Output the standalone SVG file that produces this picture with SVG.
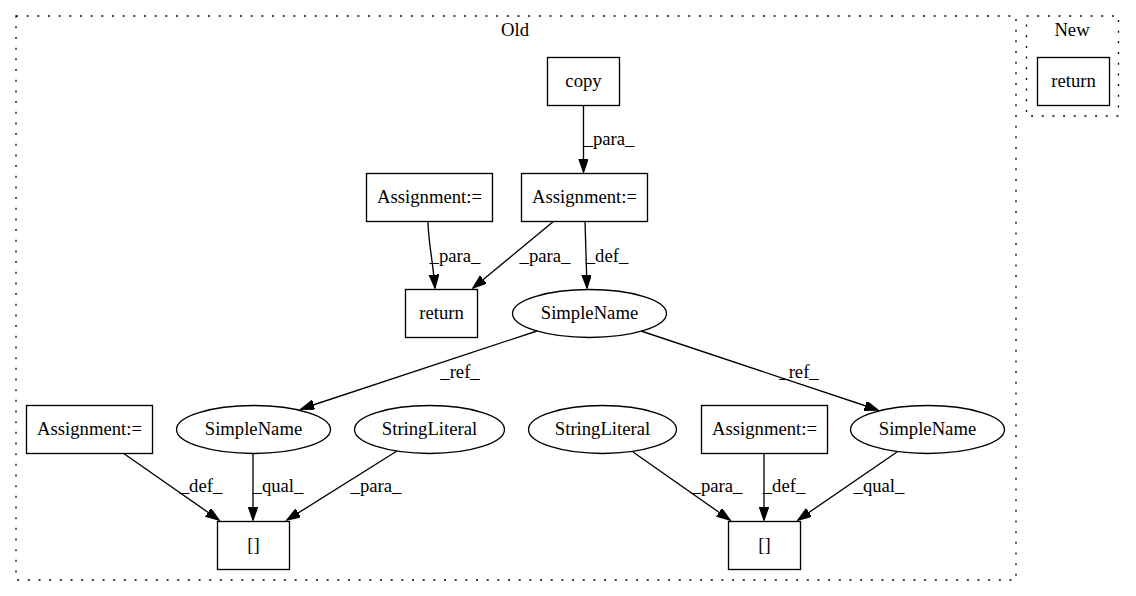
<svg xmlns="http://www.w3.org/2000/svg" width="1136" height="596" viewBox="0 0 1136 596">
<style>
text{font-family:"Liberation Serif","Times New Roman",serif;font-size:18.67px;fill:#000;text-anchor:middle}
.cl{fill:none;stroke:#000;stroke-width:1.33;stroke-dasharray:2,8.67}
.nd{fill:#fff;stroke:#000;stroke-width:1.33}
.ed{fill:none;stroke:#000;stroke-width:1.33;marker-end:url(#ah)}
</style>
<defs>
<marker id="ah" markerUnits="userSpaceOnUse" markerWidth="15" markerHeight="11" refX="13.3" refY="4.67" orient="auto">
<path d="M0,0 L13.3,4.67 L0,9.33 z" fill="#000" stroke="#000" stroke-width="1.33"/>
</marker>
</defs>
<rect width="1136" height="596" fill="#fff"/>
<g id="cluster_old">
<rect class="cl" x="16" y="16" width="1000" height="564"/>
<text x="515" y="36">Old</text>
</g>
<g id="cluster_new">
<rect class="cl" x="1026.5" y="16" width="92" height="100"/>
<text x="1072" y="36">New</text>
</g>
<g id="edges">
<path class="ed" d="M583.5,105 L583.5,172"/>
<text x="609" y="145">_para_</text>
<path class="ed" d="M428,221 C428,240 433,262 435,288"/>
<text x="455" y="262">_para_</text>
<path class="ed" d="M554,221 L473,288"/>
<text x="545" y="262">_para_</text>
<path class="ed" d="M585,221 L587,288"/>
<text x="607" y="262">_def_</text>
<path class="ed" d="M537,331 L301,409"/>
<text x="460" y="378">_ref_</text>
<path class="ed" d="M641,331 L878,410"/>
<text x="799" y="378">_ref_</text>
<path class="ed" d="M123,453 L219,520"/>
<text x="201" y="492">_def_</text>
<path class="ed" d="M253,453 L253,520"/>
<text x="278" y="492">_qual_</text>
<path class="ed" d="M397,451 L287,520"/>
<text x="376" y="492">_para_</text>
<path class="ed" d="M633,452 L730,520"/>
<text x="717" y="492">_para_</text>
<path class="ed" d="M764,453 L764,520"/>
<text x="784" y="492">_def_</text>
<path class="ed" d="M897,452 L798,520"/>
<text x="879" y="492">_qual_</text>
</g>
<g id="n_copy"><rect class="nd" x="547.5" y="57.5" width="72" height="48"/><text x="583.5" y="87">copy</text></g>
<g id="n_assign_top"><rect class="nd" x="521.5" y="173.5" width="126" height="48"/><text x="584.5" y="203">Assignment:=</text></g>
<g id="n_assign_left"><rect class="nd" x="366.5" y="173.5" width="126" height="48"/><text x="429.5" y="203">Assignment:=</text></g>
<g id="n_return"><rect class="nd" x="405.5" y="289.5" width="72" height="48"/><text x="441.5" y="319">return</text></g>
<g id="n_simplename_top"><ellipse class="nd" cx="589.5" cy="313.5" rx="77" ry="24"/><text x="589.5" y="319">SimpleName</text></g>
<g id="n_assign_bl"><rect class="nd" x="26.5" y="405.5" width="126" height="48"/><text x="89.5" y="435">Assignment:=</text></g>
<g id="n_simplename_l"><ellipse class="nd" cx="253.5" cy="429.5" rx="77" ry="24"/><text x="253.5" y="435">SimpleName</text></g>
<g id="n_stringlit_l"><ellipse class="nd" cx="429.5" cy="429.5" rx="75" ry="24"/><text x="429.5" y="435">StringLiteral</text></g>
<g id="n_index_l"><rect class="nd" x="217.5" y="521.5" width="72" height="48"/><text x="253.5" y="551">[]</text></g>
<g id="n_stringlit_r"><ellipse class="nd" cx="602.5" cy="429.5" rx="74" ry="24"/><text x="602.5" y="435">StringLiteral</text></g>
<g id="n_assign_r"><rect class="nd" x="701.5" y="405.5" width="126" height="48"/><text x="764.5" y="435">Assignment:=</text></g>
<g id="n_simplename_r"><ellipse class="nd" cx="927.5" cy="429.5" rx="77" ry="24"/><text x="927.5" y="435">SimpleName</text></g>
<g id="n_index_r"><rect class="nd" x="728.5" y="521.5" width="72" height="48"/><text x="764.5" y="551">[]</text></g>
<g id="n_return_new"><rect class="nd" x="1037.5" y="57.5" width="72" height="48"/><text x="1073.5" y="87">return</text></g>
</svg>
